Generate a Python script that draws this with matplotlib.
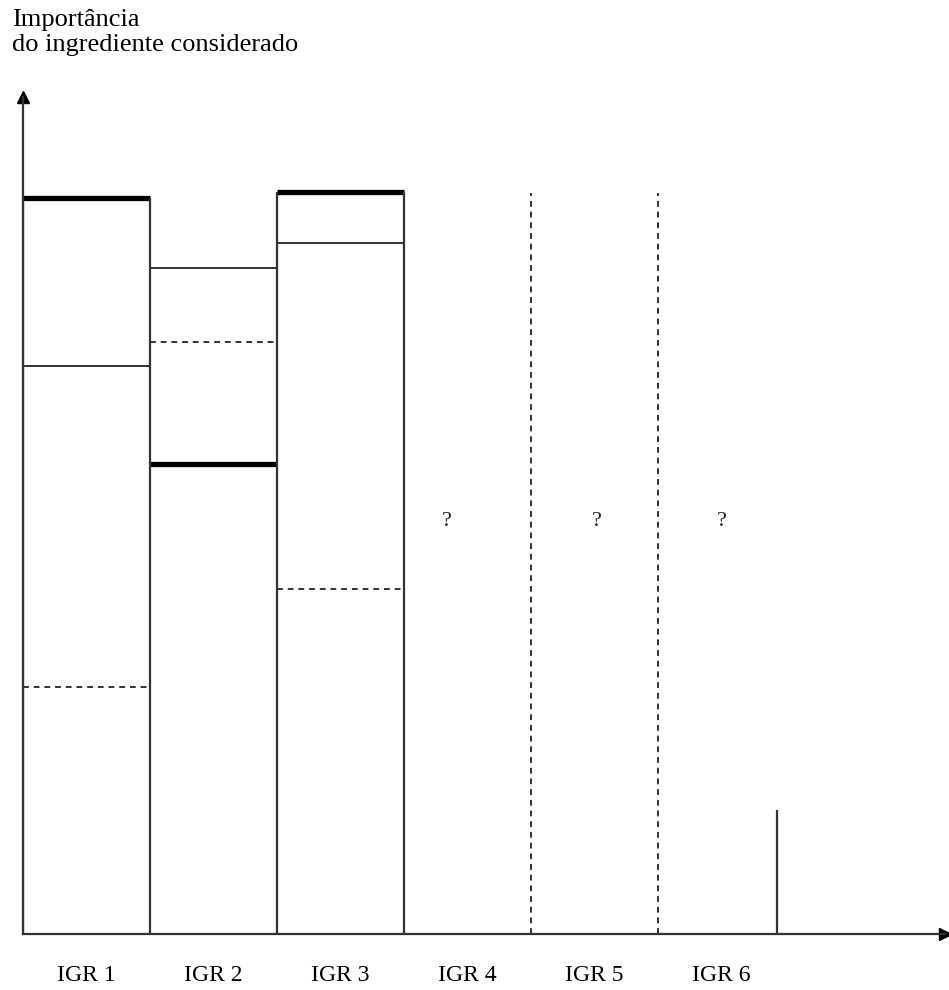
import numpy as np
import matplotlib.pyplot as plt

plt.rcParams['font.family'] = ['Liberation Serif', 'DejaVu Serif']

# categorias e niveis (escala 0-100 do eixo vertical)
categorias = ["IGR 1", "IGR 2", "IGR 3", "IGR 4", "IGR 5", "IGR 6"]
nivel_grosso = [87.9, 56.2, 88.6]   # linha espessa
nivel_fino = [67.9, 79.6, 82.6]     # linha fina
nivel_tracejado = [29.5, 70.7, 41.2]  # linha tracejada
altura_barra = [87.9, 79.6, 88.6]   # contorno de cada barra
altura_pontilhada = [88.5, 88.5]    # separadores tracejados IGR4/5 e IGR5/6
altura_final = 14.8                 # traco vertical depois de IGR 6
pos_final = 5.94
interrogacoes = ["?", "?", "?"]
pos_interrogacoes = [3.34, 4.52, 5.50]

fig = plt.figure(figsize=(9.49, 9.9), dpi=100)
ax = fig.add_axes([23 / 949, 56 / 990, 922 / 949, 837 / 990])
ax.set_xlim(0, 922 / 127)
ax.set_ylim(0, 100)

cor = "#333333"
# contornos das barras
for i, h in enumerate(altura_barra):
    ax.hlines(nivel_fino[i], i, i + 1, color=cor, lw=1.4)
    ax.hlines(nivel_grosso[i], i, i + 1, color="black", lw=3.8)
    ax.hlines(nivel_tracejado[i], i, i + 1, color=cor, lw=1.4, linestyles=(0, (3, 2.5)))

# linhas verticais entre barras
for i in range(4):
    esq = altura_barra[i - 1] if i > 0 else 0
    dir_ = altura_barra[i] if i < 3 else 0
    ax.vlines(i, 0, max(esq, dir_), color=cor, lw=1.6)

for k, h in enumerate(altura_pontilhada):
    ax.vlines(4 + k, 0, h, color=cor, lw=1.4, linestyles=(0, (3, 2.5)))
ax.vlines(pos_final, 0, altura_final, color=cor, lw=1.6)

for s, x in zip(interrogacoes, pos_interrogacoes):
    ax.text(x, 49.3, s, ha="center", va="center", fontsize=16, color="#222222")

# eixos com setas
for s in ["top", "right"]:
    ax.spines[s].set_visible(False)
ax.spines["left"].set_linewidth(1.6)
ax.spines["bottom"].set_linewidth(1.6)
ax.spines["left"].set_color(cor)
ax.spines["bottom"].set_color(cor)
ax.plot(1, 0, ">k", ms=8, transform=ax.get_yaxis_transform(), clip_on=False)
ax.plot(0, 1, "^k", ms=8, transform=ax.get_xaxis_transform(), clip_on=False)

ax.set_xticks(np.arange(len(categorias)) + 0.5)
ax.set_xticklabels(categorias, fontsize=17)
ax.tick_params(axis="x", length=0, pad=22)
ax.set_yticks([])

fig.text(12 / 949, 1 - 9 / 990, "Importância\ndo ingrediente considerado",
         ha="left", va="top", fontsize=19, linespacing=1.2)

fig.savefig("out.png", dpi=100)
